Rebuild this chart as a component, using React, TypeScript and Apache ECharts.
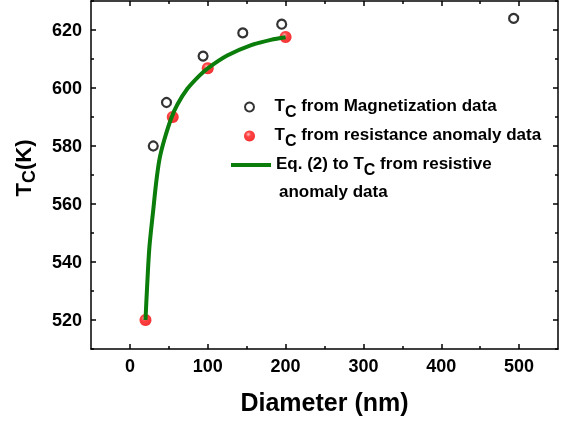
import React, { useEffect, useRef } from "react";
import * as echarts from "echarts";

const magX = [30, 47, 94, 145, 195, 493];
const magY = [580, 595, 611, 619, 622, 624];
const resX = [20, 55, 100, 200];
const resY = [520, 590, 606.8, 617.6];
const fitX = [20, 22, 25, 30, 34, 38, 44, 53, 61, 74, 89, 100, 125, 155, 181, 200];
const fitY = [520, 531, 545, 558, 568, 575.5, 582, 589.5, 594.3, 599.8, 604.2, 606.8, 611.2, 614.7, 616.6, 617.5];
const xTicks = [0, 100, 200, 300, 400, 500];
const xMinor = [50, 150, 250, 350, 450];
const yTicks = [520, 540, 560, 580, 600, 620];
const yMinor = [510, 530, 550, 570, 590, 610, 630];

const NAME_MAG = "mag";
const NAME_RES = "res";
const NAME_FIT = "fit";

const FONT = "Liberation Sans, Arial, sans-serif";

export default function App() {
  const ref = useRef<HTMLDivElement>(null);
  useEffect(() => {
    if (!ref.current) return;
    const chart = echarts.init(ref.current, null, { renderer: "svg" });
    const rich = {
      t: { fontSize: 17, fontWeight: "bold", fontFamily: FONT, color: "#000", verticalAlign: "top", lineHeight: 20 },
      sub: { fontSize: 16, fontWeight: "bold", fontFamily: FONT, color: "#000", verticalAlign: "top", lineHeight: 20, padding: [6, 0, 0, 0] },
    };
    const line = { show: true, onZero: false, lineStyle: { color: "#000", width: 1.5 } };
    const mk = (pos: string, ticks: number[], len: number, showLine: boolean, extra: any = {}) => ({
      type: "value",
      position: pos,
      axisLine: showLine ? line : { show: false, onZero: false },
      axisTick: { show: true, inside: true, length: len, customValues: ticks, lineStyle: { color: "#000", width: 1.5 } },
      axisLabel: { show: false },
      splitLine: { show: false },
      ...extra,
    });
    const xr = { min: -50, max: 550, interval: 50 };
    const yr = { min: 510, max: 630, interval: 10 };
    const labelStyle = { fontSize: 18, fontWeight: "bold", fontFamily: FONT, color: "#000" };
    const option: any = {
      animation: false,
      grid: { left: 91, top: 1, right: 9, bottom: 75, outerBoundsMode: "none" },
      xAxis: [
        mk("bottom", xTicks, 5, true, {
          ...xr,
          axisLabel: { show: true, ...labelStyle, margin: 8, customValues: xTicks },
          name: "Diameter (nm)",
          nameLocation: "middle",
          nameGap: 40,
          nameTextStyle: { fontSize: 25, fontWeight: "bold", fontFamily: FONT, color: "#000" },
        }),
        mk("bottom", xMinor, 3, false, xr),
        mk("top", xTicks, 5, true, xr),
        mk("top", xMinor, 3, false, xr),
      ],
      yAxis: [
        mk("left", yTicks, 5, true, {
          ...yr,
          axisLabel: { show: true, ...labelStyle, margin: 9, customValues: yTicks },
        }),
        mk("left", yMinor, 3, false, yr),
        mk("right", yTicks, 5, true, yr),
        mk("right", yMinor, 3, false, yr),
      ],
      legend: [
        {
          data: [NAME_MAG],
          left: 244,
          top: 97,
          padding: 0,
          itemWidth: 40,
          itemHeight: 9,
          icon: "circle",
          formatter: () => "{t|T}{sub|C}{t| from Magnetization data}",
          textStyle: { rich },
        },
        {
          data: [NAME_RES],
          left: 244,
          top: 126,
          padding: 0,
          itemWidth: 40,
          itemHeight: 11,
          icon: "circle",
          formatter: () => "{t|T}{sub|C}{t| from resistance anomaly data}",
          textStyle: { rich },
        },
        {
          data: [NAME_FIT],
          left: 231,
          top: 155,
          padding: 0,
          itemWidth: 40,
          itemHeight: 4,
          icon: "rect",
          formatter: () => "{t|Eq. (2) to T}{sub|C}{t| from resistive}",
          textStyle: { rich },
        },
      ],
      graphic: [
        {
          type: "text",
          left: 279,
          top: 183,
          style: { text: "anomaly data", font: `bold 17px ${FONT}`, fill: "#000" },
        },
        {
          type: "text",
          x: 25,
          y: 168,
          rotation: Math.PI / 2,
          style: {
            text: "{t|T}{s|C}{t|(K)}",
            align: "center",
            verticalAlign: "middle",
            rich: {
              t: { fontSize: 22, fontWeight: "bold", fontFamily: FONT, fill: "#000", verticalAlign: "top", lineHeight: 26 },
              s: { fontSize: 18, fontWeight: "bold", fontFamily: FONT, fill: "#000", verticalAlign: "top", lineHeight: 26, padding: [8, 0, 0, 0] },
            },
          },
        },
      ],
      series: [
        {
          name: NAME_MAG,
          type: "scatter",
          xAxisIndex: 0,
          yAxisIndex: 0,
          data: magX.map((x, i) => [x, magY[i]]),
          symbol: "circle",
          symbolSize: 9,
          itemStyle: { color: "rgba(255,255,255,0)", borderColor: "#000", borderWidth: 2.2 },
          z: 2,
        },
        {
          name: NAME_RES,
          type: "scatter",
          xAxisIndex: 0,
          yAxisIndex: 0,
          data: resX.map((x, i) => [x, resY[i]]),
          symbol: "circle",
          symbolSize: 12,
          itemStyle: {
            color: {
              type: "radial",
              x: 0.4,
              y: 0.35,
              r: 0.65,
              colorStops: [
                { offset: 0, color: "#ffb0b0" },
                { offset: 0.35, color: "#ff1515" },
                { offset: 1, color: "#f00000" },
              ],
            },
          },
          z: 3,
        },
        {
          name: NAME_FIT,
          type: "line",
          xAxisIndex: 0,
          yAxisIndex: 0,
          data: fitX.map((x, i) => [x, fitY[i]]),
          smooth: 0.3,
          showSymbol: false,
          lineStyle: { color: "#0a7d0a", width: 4 },
          itemStyle: { color: "#0a7d0a" },
          z: 4,
        },
      ],
    };
    chart.setOption(option);
    return () => chart.dispose();
  }, []);
  return <div ref={ref} style={{ width: 567, height: 424, position: "fixed", left: 0, top: 0 }} />;
}
